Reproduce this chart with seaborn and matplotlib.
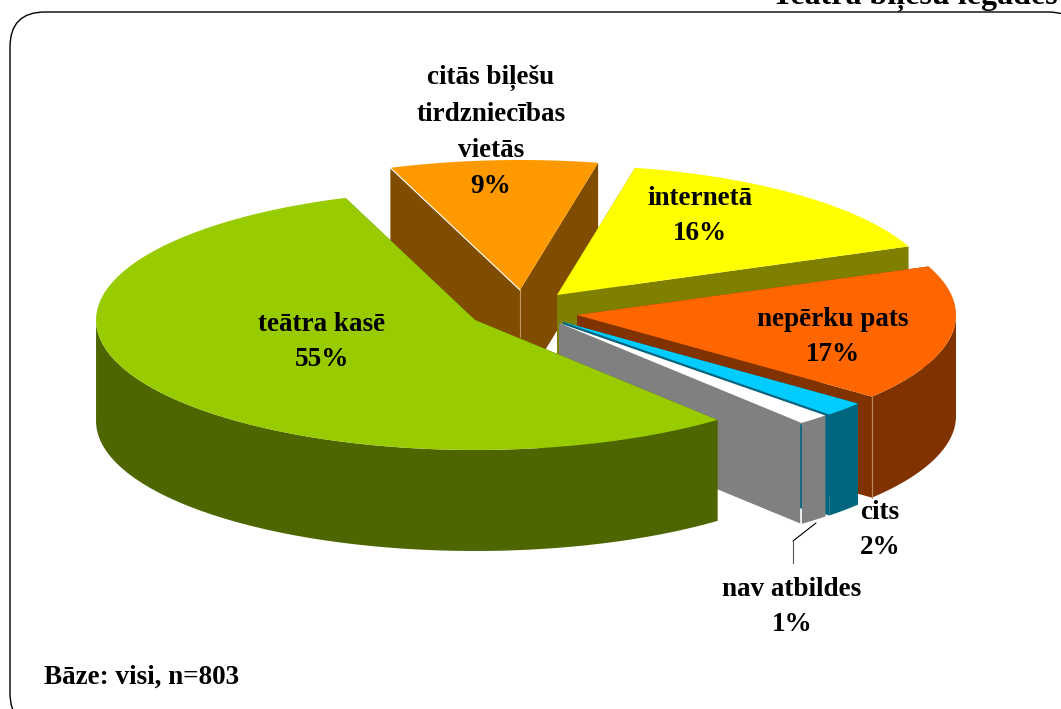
import numpy as np
import matplotlib
matplotlib.use("Agg")
import matplotlib.pyplot as plt
from matplotlib.patches import FancyBboxPatch
import seaborn as sns

# slices in drawing order starts from teatra, going counter clockwise
categories = ["teātra kasē", "nav atbildes", "cits", "nepērku pats", "internetā",
              "citās biļešu\ntirdzniecības\nvietās"]
shares = [55.49, 1.35, 1.8, 16.9, 15.6, 8.86]
top_colors = ["#99CC00", "#FFFFFF", "#00CCFF", "#FF6600", "#FFFF00", "#FF9900"]
side_colors = ["#4D6600", "#808080", "#006680", "#803300", "#808000", "#804D00"]

# layout, in pixels
tips = [(475, 320), (559, 323), (563, 322), (577, 315), (557, 295), (520, 290)]
label_pos = [(322, 342), (792, 607), (880, 530), (833, 337), (700, 216), (491, 132)]
start_angle = 110
rx, ry = 379, 130
depth = 101

sns.set_theme(style="white")
plt.rcParams["font.family"] = ["Liberation Serif", "DejaVu Serif"]
plt.rcParams["font.weight"] = "bold"

fig = plt.figure(figsize=(10.61, 7.09), dpi=100)
ax = fig.add_axes([0, 0, 1, 1])
ax.set_xlim(0, 1061)
ax.set_ylim(709, 0)
ax.axis("off")

# rounded frame runs off the right and bottom of the picture
ax.add_patch(FancyBboxPatch((10, 12), 1073, 716, boxstyle="round,pad=0,rounding_size=35",
                            fc="white", ec="black", lw=1.0))

shares = np.array(shares)
angles = start_angle + np.concatenate([[0], np.cumsum(shares / shares.sum() * 360)])


def rim(tip, a0, a1, n=80):
    t = np.radians(np.linspace(a0, a1, n))
    return tip[0] + rx * np.cos(t), tip[1] - ry * np.sin(t)


def draw_slice(i):
    tip = tips[i]
    a0, a1 = angles[i], angles[i + 1]
    x, y = rim(tip, a0, a1)
    # the two cut faces
    for px, py in [(x[0], y[0]), (x[-1], y[-1])]:
        ax.fill([tip[0], px, px, tip[0]], [tip[1], py, py + depth, tip[1] + depth],
                color=side_colors[i], lw=0)
    # outer wall, only the part that faces us
    t = np.radians(np.linspace(a0, a1, 80))
    front = np.sin(t) < 0
    if front.any():
        xf, yf = x[front], y[front]
        ax.fill(np.r_[xf, xf[::-1]], np.r_[yf, yf[::-1] + depth], color=side_colors[i], lw=0)
    ax.fill(np.r_[tip[0], x], np.r_[tip[1], y], color=top_colors[i], lw=0)
    return x, y


# back slices first, teatra kase has to cover the rest
edges = {}
for i in [5, 4, 3, 2, 1, 0]:
    edges[i] = draw_slice(i)

# light corner lines on the walls
x, y = edges[5]
ax.plot([tips[5][0], tips[5][0]], [tips[5][1], 337], color="#C09A60", lw=0.8)
ax.plot([tips[5][0], x[-1]], [tips[5][1], y[-1]], color="white", lw=0.8)
x, y = edges[3]
ax.plot([x[0], x[0]], [y[0], y[0] + depth], color="#C08A60", lw=0.8)
x, y = edges[1]
ax.plot([x[0], x[0]], [y[0] + 2, y[0] + 86], color="#006680", lw=1.2)
ax.plot([x[0], x[0]], [y[0] + 86, y[0] + depth], color="white", lw=1.2)

for name, share, (lx, ly) in zip(categories, shares, label_pos):
    ax.text(lx, ly, f"{name}\n{share:.0f}%", ha="center", va="center", fontsize=19.5,
            fontweight="bold", color="black", linespacing=1.57)

# leader line for nav atbildes
ax.plot([816, 793], [523, 541], color="black", lw=0.8)
ax.plot([793, 793], [541, 563], color="#555555", lw=0.8)

ax.text(44, 684, "Bāze: visi, n=803", ha="left", va="baseline", fontsize=19.5, fontweight="bold", color="black")
ax.text(1058, 4, "Teātra biļešu iegādes", ha="right", va="baseline", fontsize=23, fontweight="bold", color="black")

fig.savefig("out.png", dpi=100)
